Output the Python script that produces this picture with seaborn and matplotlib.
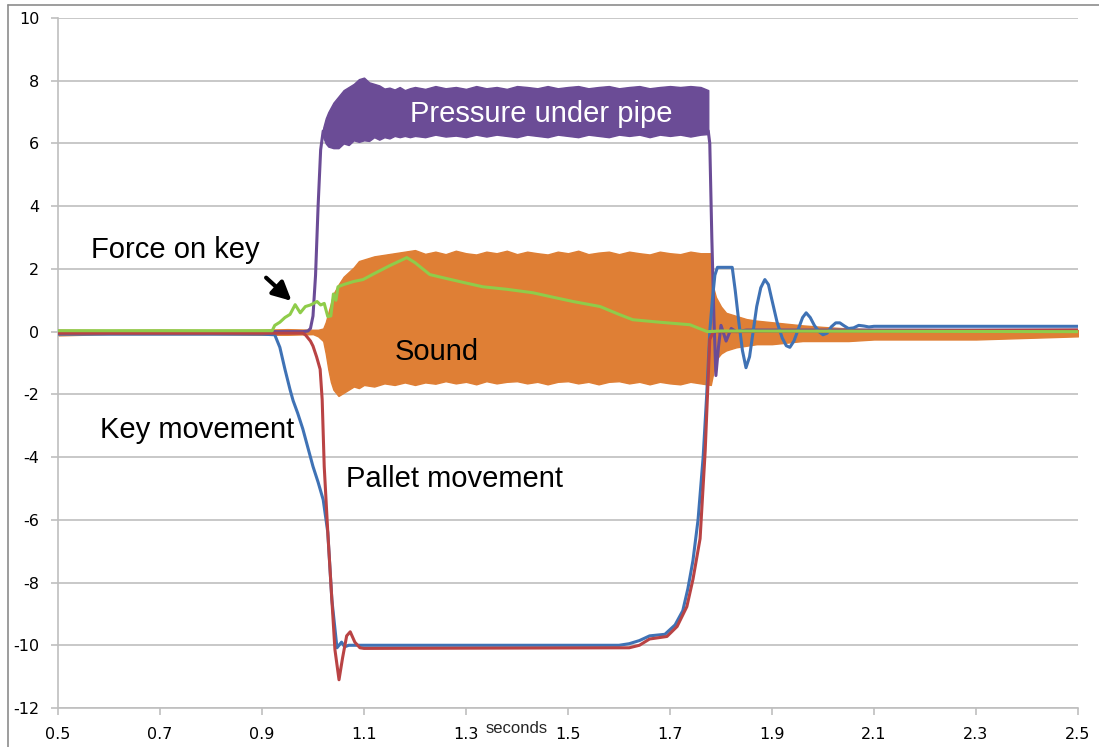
import matplotlib
matplotlib.use('Agg')
import matplotlib.pyplot as plt
import seaborn as sns
from matplotlib.lines import Line2D

# time axis ticks
x_ticks = [0.5, 0.7, 0.9, 1.1, 1.3, 1.5, 1.7, 1.9, 2.1, 2.3, 2.5]
y_ticks = [-12, -10, -8, -6, -4, -2, 0, 2, 4, 6, 8, 10]

# Sound (envelope of the oscillation)
sound_t = [0.50, 0.60, 0.70, 0.80, 0.90, 0.95, 1.00, 1.01, 1.02, 1.025, 1.03, 1.035, 1.04, 1.045,
           1.05, 1.06, 1.07, 1.08, 1.09, 1.10, 1.12, 1.14, 1.16, 1.18, 1.20, 1.22, 1.24, 1.26,
           1.28, 1.30, 1.32, 1.34, 1.36, 1.38, 1.40, 1.42, 1.44, 1.46, 1.48, 1.50, 1.52, 1.54,
           1.56, 1.58, 1.60, 1.62, 1.64, 1.66, 1.68, 1.70, 1.72, 1.74, 1.76, 1.78, 1.785, 1.79,
           1.80, 1.81, 1.83, 1.85, 1.87, 1.90, 1.93, 1.96, 2.00, 2.05, 2.10, 2.20, 2.30, 2.40, 2.50]
sound_hi = [0.06, 0.05, 0.06, 0.05, 0.06, 0.08, 0.06, 0.06, 0.10, 0.30, 0.60, 0.90, 1.20, 1.35,
            1.50, 1.75, 1.90, 2.05, 2.25, 2.30, 2.40, 2.45, 2.50, 2.55, 2.60, 2.48, 2.55, 2.47,
            2.58, 2.50, 2.46, 2.55, 2.50, 2.58, 2.47, 2.55, 2.50, 2.46, 2.55, 2.50, 2.58, 2.47,
            2.52, 2.55, 2.47, 2.55, 2.50, 2.46, 2.55, 2.50, 2.47, 2.55, 2.50, 2.50, 1.40, 1.10,
            0.80, 0.60, 0.50, 0.40, 0.35, 0.30, 0.25, 0.20, 0.15, 0.10, 0.08, 0.08, 0.07, 0.06, 0.05]
sound_lo = [-0.12, -0.08, -0.08, -0.08, -0.10, -0.10, -0.08, -0.15, -0.30, -0.70, -1.20, -1.60, -1.85, -1.95,
            -2.05, -1.95, -1.85, -1.75, -1.80, -1.70, -1.75, -1.65, -1.70, -1.62, -1.70, -1.62, -1.66, -1.58,
            -1.65, -1.60, -1.68, -1.58, -1.65, -1.60, -1.58, -1.65, -1.60, -1.68, -1.60, -1.58, -1.65, -1.60,
            -1.68, -1.60, -1.58, -1.65, -1.60, -1.68, -1.60, -1.65, -1.68, -1.60, -1.65, -1.70, -1.30, -0.90,
            -0.70, -0.60, -0.50, -0.45, -0.40, -0.40, -0.35, -0.30, -0.30, -0.30, -0.25, -0.25, -0.25, -0.20, -0.15]

# Pressure under pipe: rise, noisy plateau, fall
press_t = [0.50, 0.98, 0.99, 0.995, 1.000, 1.005, 1.010, 1.015, 1.020]
press_v = [0.00, 0.00, 0.02, 0.10, 0.50, 1.80, 4.00, 5.80, 6.40]
plateau_t = [1.020, 1.025, 1.03, 1.04, 1.05, 1.06, 1.07, 1.08, 1.09, 1.10, 1.11, 1.12, 1.13, 1.14,
             1.15, 1.16, 1.17, 1.18, 1.19, 1.20, 1.22, 1.24, 1.26, 1.28, 1.30, 1.32, 1.34, 1.36,
             1.38, 1.40, 1.42, 1.44, 1.46, 1.48, 1.50, 1.52, 1.54, 1.56, 1.58, 1.60, 1.62, 1.64,
             1.66, 1.68, 1.70, 1.72, 1.74, 1.76, 1.775]
plateau_hi = [6.50, 6.80, 7.00, 7.30, 7.50, 7.70, 7.80, 7.90, 8.05, 8.10, 7.95, 7.90, 7.85, 7.75,
              7.78, 7.72, 7.80, 7.70, 7.76, 7.80, 7.74, 7.83, 7.76, 7.80, 7.74, 7.83, 7.76, 7.80,
              7.74, 7.83, 7.80, 7.76, 7.83, 7.76, 7.80, 7.83, 7.76, 7.80, 7.83, 7.76, 7.80, 7.83,
              7.76, 7.80, 7.83, 7.80, 7.83, 7.80, 7.70]
plateau_lo = [6.20, 6.00, 5.90, 5.85, 5.85, 6.00, 5.95, 6.10, 6.05, 6.10, 6.08, 6.20, 6.12, 6.20,
              6.16, 6.24, 6.20, 6.24, 6.20, 6.24, 6.20, 6.28, 6.22, 6.25, 6.20, 6.28, 6.22, 6.28,
              6.24, 6.20, 6.28, 6.24, 6.20, 6.28, 6.24, 6.20, 6.28, 6.24, 6.20, 6.28, 6.24, 6.28,
              6.20, 6.28, 6.24, 6.28, 6.22, 6.28, 6.30]
fall_t = [1.775, 1.778, 1.782, 1.786, 1.790, 1.795, 1.800, 1.810, 1.820, 1.830, 1.850, 2.50]
fall_v = [6.40, 6.00, 3.00, 0.50, -1.40, -0.50, 0.20, -0.30, 0.10, 0.00, 0.05, 0.05]

# Key movement
key_t = [0.50, 0.90, 0.925, 0.935, 0.945, 0.955, 0.961, 0.97, 0.98, 0.99, 1.00, 1.01, 1.02, 1.029,
         1.037, 1.047, 1.056, 1.062, 1.07, 1.60, 1.62, 1.64, 1.66, 1.69, 1.71, 1.725, 1.735, 1.745,
         1.755, 1.765, 1.772, 1.778, 1.783, 1.788, 1.793, 1.822, 1.828, 1.835, 1.842, 1.849, 1.856,
         1.863, 1.870, 1.878, 1.886, 1.893, 1.900, 1.910, 1.920, 1.928, 1.935, 1.943, 1.952, 1.960,
         1.967, 1.975, 1.983, 1.992, 2.000, 2.008, 2.016, 2.025, 2.033, 2.042, 2.050, 2.060, 2.070,
         2.080, 2.090, 2.100, 2.50]
key_v = [-0.08, -0.08, -0.10, -0.50, -1.20, -1.85, -2.20, -2.60, -3.10, -3.70, -4.30, -4.80, -5.36, -6.40,
         -8.55, -10.08, -9.90, -10.05, -10.00, -10.00, -9.95, -9.85, -9.70, -9.65, -9.35, -8.90, -8.20, -7.30,
         -6.00, -4.00, -2.00, 0.00, 1.00, 1.80, 2.05, 2.05, 1.30, 0.30, -0.60, -1.15, -0.80,
         0.00, 0.80, 1.40, 1.66, 1.50, 1.00, 0.30, -0.20, -0.45, -0.50, -0.30, 0.10, 0.45,
         0.60, 0.45, 0.20, 0.00, -0.10, -0.05, 0.15, 0.28, 0.28, 0.18, 0.10, 0.12, 0.20,
         0.18, 0.15, 0.17, 0.17]

# Pallet movement
pallet_t = [0.50, 0.98, 0.985, 0.99, 0.995, 1.000, 1.007, 1.014, 1.018, 1.022, 1.029, 1.037, 1.043,
            1.051, 1.058, 1.066, 1.073, 1.082, 1.092, 1.10, 1.62, 1.64, 1.66, 1.694, 1.714, 1.733,
            1.745, 1.759, 1.769, 1.778, 1.785, 2.50]
pallet_v = [-0.05, -0.05, -0.10, -0.20, -0.30, -0.46, -0.80, -1.20, -2.17, -4.30, -6.40, -8.55, -10.14,
            -11.10, -10.40, -9.70, -9.57, -9.90, -10.08, -10.10, -10.08, -10.00, -9.80, -9.72, -9.40, -8.77,
            -7.90, -6.60, -3.80, -0.25, 0.00, 0.05]

# Force on key
force_t = [0.50, 0.92, 0.925, 0.935, 0.945, 0.955, 0.965, 0.975, 0.985, 0.995, 1.008, 1.015, 1.022,
           1.029, 1.035, 1.04, 1.045, 1.049, 1.06, 1.08, 1.098, 1.12, 1.15, 1.184, 1.20, 1.229,
           1.26, 1.30, 1.333, 1.38, 1.431, 1.47, 1.51, 1.563, 1.60, 1.627, 1.68, 1.739, 1.773,
           1.80, 2.50]
force_v = [0.03, 0.03, 0.20, 0.30, 0.45, 0.55, 0.86, 0.60, 0.80, 0.85, 0.96, 0.85, 0.90,
           0.48, 0.50, 1.20, 1.00, 1.43, 1.50, 1.60, 1.66, 1.85, 2.10, 2.36, 2.20, 1.82,
           1.70, 1.55, 1.43, 1.35, 1.24, 1.10, 0.96, 0.80, 0.55, 0.38, 0.30, 0.22, 0.00,
           0.02, 0.00]

orange = '#DF7F35'
purple = '#6B4C96'
blue = '#3F72B5'
red = '#B94344'
green = '#8FCC4A'
grey = '#BFBFBF'

sns.set_theme(style='white')
plt.rcParams['font.family'] = ['Liberation Sans', 'DejaVu Sans']

fig = plt.figure(figsize=(10.99, 7.47), dpi=100)
ax = fig.add_axes([58 / 1099, 39 / 747, 1020 / 1099, 690 / 747])

ax.fill_between(sound_t, sound_lo, sound_hi, color=orange, lw=1, edgecolor=orange, zorder=2)
ax.fill_between(plateau_t, plateau_lo, plateau_hi, color=purple, lw=1, edgecolor=purple, zorder=3)
sns.lineplot(x=press_t, y=press_v, color=purple, lw=2.2, ax=ax, zorder=3)
sns.lineplot(x=fall_t, y=fall_v, color=purple, lw=2.2, ax=ax, zorder=3)
sns.lineplot(x=key_t, y=key_v, color=blue, lw=2.2, ax=ax, zorder=4)
sns.lineplot(x=pallet_t, y=pallet_v, color=red, lw=2.2, ax=ax, zorder=5)
sns.lineplot(x=force_t, y=force_v, color=green, lw=2.2, ax=ax, zorder=6)

ax.set_xlim(0.5, 2.5)
ax.set_ylim(-12, 10)
ax.set_xticks(x_ticks)
ax.set_xticklabels([f'{t:.1f}' for t in x_ticks], family='DejaVu Sans', fontsize=11.5)
ax.set_yticks(y_ticks)
ax.set_yticklabels([str(t) for t in y_ticks], family='DejaVu Sans', fontsize=11.5)
ax.yaxis.grid(True, color=grey, lw=1.2, zorder=0)
ax.xaxis.grid(False)
ax.set_axisbelow(True)
for side in ['top', 'right']:
    ax.spines[side].set_visible(False)
for side in ['left', 'bottom']:
    ax.spines[side].set_color(grey)
    ax.spines[side].set_linewidth(1.2)
ax.tick_params(axis='both', direction='out', length=5, width=1.2, color=grey,
               labelcolor='black', left=True, bottom=True)
ax.tick_params(axis='y', pad=8.5)
ax.tick_params(axis='x', pad=9)
ax.set_xlabel('')
ax.set_ylabel('')
ax.text(1.40, -0.029, 'seconds', transform=ax.get_xaxis_transform(),
        ha='center', va='center', fontsize=12)

ax.text(1.190, 6.70, 'Pressure under pipe', color='white', fontsize=21, va='baseline', zorder=7)
ax.text(1.161, -0.89, 'Sound', color='black', fontsize=21, va='baseline', zorder=7)
ax.text(0.565, 2.35, 'Force on key', color='black', fontsize=21, va='baseline', zorder=7)
ax.text(0.582, -3.38, 'Key movement', color='black', fontsize=21, va='baseline', zorder=7)
ax.text(1.065, -4.94, 'Pallet movement', color='black', fontsize=21, va='baseline', zorder=7)
ax.annotate('', xy=(0.962, 0.92), xytext=(0.904, 1.78),
            arrowprops=dict(arrowstyle='-|>', color='black', lw=3, mutation_scale=28), zorder=7)

# outer frame of the original chart
fig.add_artist(Line2D([8 / 1099, 8 / 1099], [0, 1 - 5 / 747], transform=fig.transFigure,
                      color='#8C8C8C', lw=1.2))
fig.add_artist(Line2D([8 / 1099, 1], [1 - 5 / 747, 1 - 5 / 747], transform=fig.transFigure,
                      color='#8C8C8C', lw=1.2))

fig.savefig('out.png', dpi=100, facecolor='white')
